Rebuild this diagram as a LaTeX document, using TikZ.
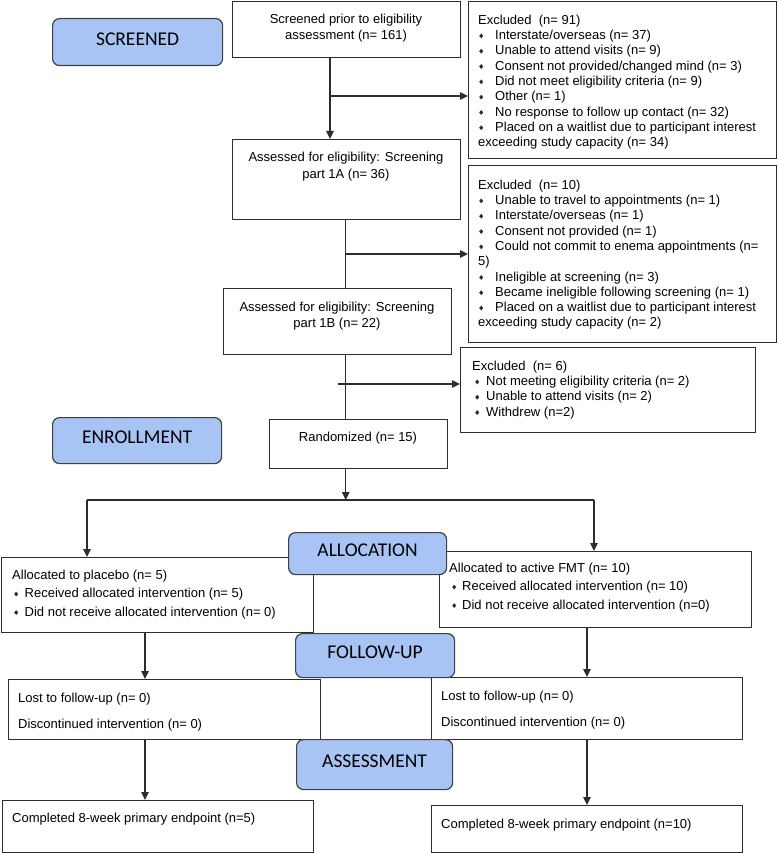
\documentclass[tikz,border=0pt]{standalone}
\usepackage{fontspec}
\setmainfont{Liberation Sans}
\newfontfamily\phasefont{Carlito}
\usetikzlibrary{arrows.meta}
\definecolor{phaseblue}{RGB}{168,196,245}
\definecolor{linegray}{RGB}{45,45,45}
\newcommand\bul{\tikz[baseline=0pt]\fill[linegray] (0pt,3.6pt)--(2pt,6pt)--(4pt,3.6pt)--(2pt,1.2pt)--cycle;}
\newcommand\bl[2]{\hspace*{#1}\bul\hspace*{#2}}
\begin{document}
\begin{tikzpicture}[x=1pt,y=-1pt,
  box/.style={draw=linegray, line width=1.2pt, anchor=north west, inner sep=0pt},
  phase/.style={draw=black!75, fill=phaseblue, rounded corners=7pt, line width=1.2pt, anchor=north west, inner sep=0pt, text depth=6pt, font=\phasefont\fontsize{19.5}{23}\selectfont},
  txt/.style={anchor=north west, inner sep=0pt, align=left, font=\fontsize{13}{#1}\selectfont},
  ctxt/.style={anchor=north, inner sep=0pt, align=center, font=\fontsize{13}{#1}\selectfont},
  ltxt/.style={anchor=base west, inner sep=0pt, font=\fontsize{13}{15.3}\selectfont},
  arr/.style={draw=linegray, line width=1.2pt, -{Triangle[length=8pt,width=7.5pt]}},
  ln/.style={draw=linegray, line width=1.2pt}]
\useasboundingbox (0,0) rectangle (778,853);

% boxes
\node[box, minimum width=228pt, minimum height=56pt] (b1) at (232,1) {};
\node[box, minimum width=308pt, minimum height=157pt] (e1) at (468,1) {};
\node[box, minimum width=228pt, minimum height=80pt] (b2) at (232,139) {};
\node[box, minimum width=308pt, minimum height=177pt] (e2) at (468,165) {};
\node[box, minimum width=228pt, minimum height=66pt] (b3) at (223,288) {};
\node[box, minimum width=295pt, minimum height=85pt] (e3) at (460,347) {};
\node[box, minimum width=178pt, minimum height=49pt] (rnd) at (269,419) {};
\node[box, minimum width=312pt, minimum height=75pt] (pl) at (1,557) {};
\node[box, minimum width=312pt, minimum height=76pt] (fmt) at (439,551) {};
\node[box, minimum width=312pt, minimum height=60pt] (lL) at (8,679) {};
\node[box, minimum width=311pt, minimum height=62pt] (lR) at (431,677) {};
\node[box, minimum width=311pt, minimum height=52pt] (cL) at (2,800) {};
\node[box, minimum width=311pt, minimum height=47pt] (cR) at (431,805) {};

% texts
\node[ctxt=16.3] (b1t) at (346,11.9) {\strut Screened prior to eligibility\\assessment (n= 161)};
\node[ctxt=17] (b2t) at (346,149.8) {\strut Assessed for eligibility: Screening\\part 1A (n= 36)};
\node[ctxt=16] (b3t) at (337,299.8) {\strut Assessed for eligibility: Screening\\part 1B (n= 22)};
\node[ltxt, anchor=base] (rndt) at (358,441) {Randomized (n= 15)};

\node[txt=15.3] (e1t) at (478,13.3) {\strut Excluded~~(n= 91)\\
\bl{1pt}{12pt}Interstate/overseas (n= 37)\\
\bl{1pt}{12pt}Unable to attend visits (n= 9)\\
\bl{1pt}{12pt}Consent not provided/changed mind (n= 3)\\
\bl{1pt}{12pt}Did not meet eligibility criteria (n= 9)\\
\bl{1pt}{12pt}Other (n= 1)\\
\bl{1pt}{12pt}No response to follow up contact (n= 32)\\
\bl{1pt}{12pt}Placed on a waitlist due to participant interest\\
exceeding study capacity (n= 34)};

\node[txt=15.3] (e2t) at (478,178.3) {\strut Excluded~~(n= 10)\\
\bl{1pt}{12pt}Unable to travel to appointments (n= 1)\\
\bl{1pt}{12pt}Interstate/overseas (n= 1)\\
\bl{1pt}{12pt}Consent not provided (n= 1)\\
\bl{1pt}{12pt}Could not commit to enema appointments (n=\\
5)\\
\bl{1pt}{12pt}Ineligible at screening (n= 3)\\
\bl{1pt}{12pt}Became ineligible following screening (n= 1)\\
\bl{1pt}{12pt}Placed on a waitlist due to participant interest\\
exceeding study capacity (n= 2)};

\node[txt=15.3] (e3t) at (472,359.3) {\strut Excluded~~(n= 6)\\
\bl{3pt}{7pt}Not meeting eligibility criteria (n= 2)\\
\bl{3pt}{7pt}Unable to attend visits (n= 2)\\
\bl{3pt}{7pt}Withdrew (n=2)};

\node[txt=18.5] (plt) at (12,566) {\strut Allocated to placebo (n= 5)\\
\bl{2pt}{6.5pt}Received allocated intervention (n= 5)\\
\bl{2pt}{6.5pt}Did not receive allocated intervention (n= 0)};

\node[txt=18.5] (fmtt) at (449,559) {\strut Allocated to active FMT (n= 10)\\
\bl{3pt}{6pt}Received allocated intervention (n= 10)\\
\bl{3pt}{6pt}Did not receive allocated intervention (n=0)};

\node[txt=26] (lLt) at (18,683.8) {\strut Lost to follow-up (n= 0)\\Discontinued intervention (n= 0)};
\node[txt=26] (lRt) at (441,681.8) {\strut Lost to follow-up (n= 0)\\Discontinued intervention (n= 0)};

\node[ltxt] (cLt) at (12,822) {Completed 8-week primary endpoint (n=5)};
\node[ltxt] (cRt) at (441,828) {Completed 8-week primary endpoint (n=10)};

% connectors
\coordinate (k1) at (330,96);
\draw[arr] (k1 |- b1.south) -- (k1 |- b2.north);
\draw[arr] (k1) -- (k1 -| e1.west);
\coordinate (k2) at (345.7,254);
\draw[ln] (k2 |- b2.south) -- (k2 |- b3.north);
\draw[arr] (k2) -- (k2 -| e2.west);
\coordinate (k3) at (345.7,384);
\coordinate (k3s) at (337.7,384);
\draw[ln] (k3 |- b3.south) -- (k3 |- rnd.north);
\draw[arr] (k3s) -- (k3s -| e3.west);
\coordinate (sp) at (345.7,500);
\draw[arr] (sp |- rnd.south) -- (sp);
\coordinate (spL) at (87,500);
\coordinate (spR) at (594,500);
\draw[ln] (spL) -- (spR);
\draw[arr] (spL) -- (spL |- pl.north);
\draw[arr] (spR) -- (spR |- fmt.north);
\coordinate (xL) at (145,0);
\coordinate (xR) at (587,0);
\draw[arr] (xL |- pl.south) -- (xL |- lL.north);
\draw[arr] (xR |- fmt.south) -- (xR |- lR.north);
\draw[arr] (xL |- lL.south) -- (xL |- cL.north);
\draw[arr] (xR |- lR.south) -- (xR |- cR.north);

% phase labels
\node[phase, minimum width=170pt, minimum height=47pt] (ph1) at (52,18) {SCREENED};
\node[phase, minimum width=169pt, minimum height=46pt] (ph2) at (52,417) {ENROLLMENT};
\node[phase, minimum width=158pt, minimum height=42pt] (ph3) at (288,532) {ALLOCATION};
\node[phase, minimum width=159pt, minimum height=44pt] (ph4) at (295,633) {FOLLOW-UP};
\node[phase, minimum width=156pt, minimum height=50pt] (ph5) at (296,739) {ASSESSMENT};
\end{tikzpicture}
\end{document}
